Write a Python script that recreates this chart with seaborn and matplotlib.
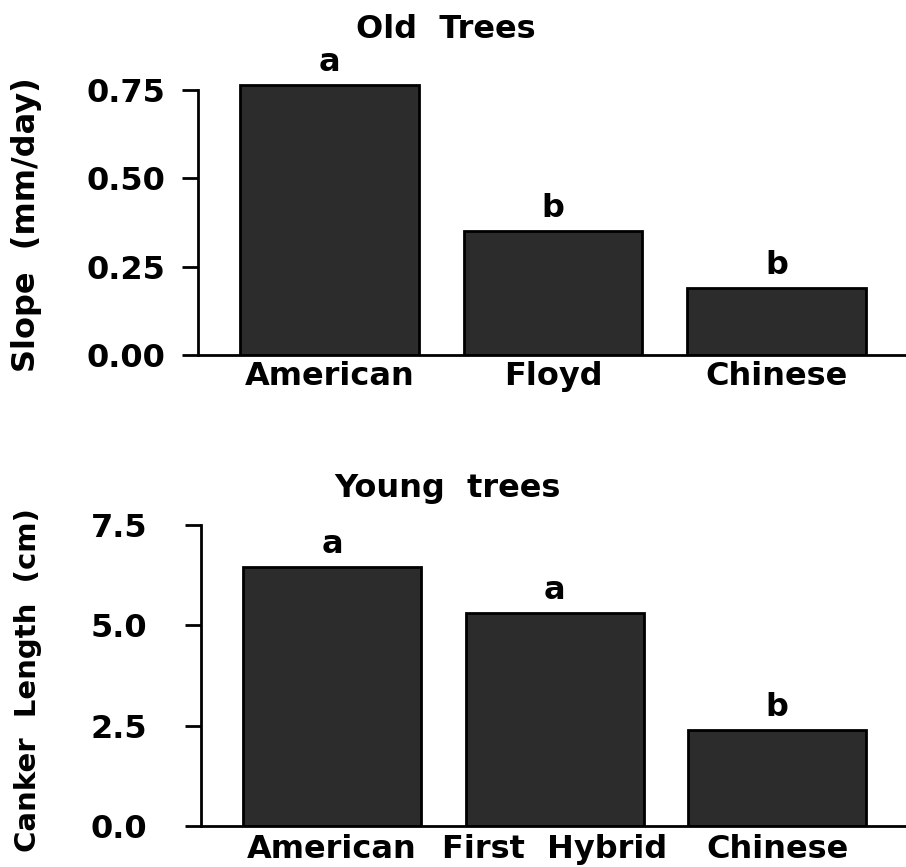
import seaborn as sns
import matplotlib.pyplot as plt

# Old trees (top panel)
old_cultivars = ['American', 'Floyd', 'Chinese']
old_slope = [0.765, 0.35, 0.19]
old_letters = ['a', 'b', 'b']

# Young trees (bottom panel)
young_cultivars = ['American', 'First  Hybrid', 'Chinese']
young_canker = [6.45, 5.3, 2.4]
young_letters = ['a', 'a', 'b']

sns.set_style("ticks")
plt.rcParams['font.family'] = ['DejaVu Sans']
plt.rcParams['font.weight'] = 'bold'
for key in ['text.color', 'axes.labelcolor', 'xtick.color', 'ytick.color', 'axes.edgecolor']:
    plt.rcParams[key] = 'black'

fs = 23
bar_color = '#2c2c2c'

fig = plt.figure(figsize=(9.06, 8.67), dpi=100)
ax1 = fig.add_axes([198 / 906, 0.5905, 708 / 906, 0.326])
ax2 = fig.add_axes([201 / 906, 0.0473, 705 / 906, 0.347])


def draw_panel(ax, cats, vals, letters, ylim, top, ticks, fmt, tick_pad, x_pad):
    sns.barplot(x=cats, y=vals, color=bar_color, edgecolor='black',
                linewidth=2, width=0.8, saturation=1, ax=ax)
    ax.set_xlim(-0.59, 2.58)
    ax.set_ylim(*ylim)
    ax.set_yticks(ticks)
    ax.set_yticklabels([fmt.format(t) for t in ticks])
    ax.spines['top'].set_visible(False)
    ax.spines['right'].set_visible(False)
    ax.spines['left'].set_bounds(0, top)
    ax.spines['left'].set_linewidth(2)
    ax.spines['bottom'].set_linewidth(2)
    ax.tick_params(axis='y', length=11.5, width=2, pad=tick_pad, labelsize=fs)
    ax.tick_params(axis='x', length=0, pad=x_pad, labelsize=fs)
    for lab in ax.get_xticklabels() + ax.get_yticklabels():
        lab.set_fontweight('bold')
    for i, (v, s) in enumerate(zip(vals, letters)):
        ax.annotate(s, (i, v), xytext=(0, 5), textcoords='offset points',
                    ha='center', va='bottom', fontsize=fs, fontweight='bold')
    ax.set_xlabel('')
    ax.set_ylabel('')


draw_panel(ax1, old_cultivars, old_slope, old_letters, (0, 0.80), 0.75,
           [0.0, 0.25, 0.5, 0.75], '{:.2f}', 12, 4)
draw_panel(ax2, young_cultivars, young_canker, young_letters, (0, 7.5), 7.5,
           [0.0, 2.5, 5.0, 7.5], '{:.1f}', 27, 6)

# Titles and y labels
fig.text(446 / 906, 1 - 30 / 867, 'Old  Trees', ha='center', va='center',
         fontsize=fs, fontweight='bold')
fig.text(447 / 906, 1 - 488 / 867, 'Young  trees', ha='center', va='center',
         fontsize=fs, fontweight='bold')
fig.text(27 / 906, 1 - 225 / 867, 'Slope  (mm/day)', rotation=90,
         ha='center', va='center', fontsize=fs, fontweight='bold')
fig.text(28 / 906, 1 - 680 / 867, 'Canker  Length  (cm)', rotation=90,
         ha='center', va='center', fontsize=21, fontweight='bold')

plt.savefig('out.png', dpi=100)
